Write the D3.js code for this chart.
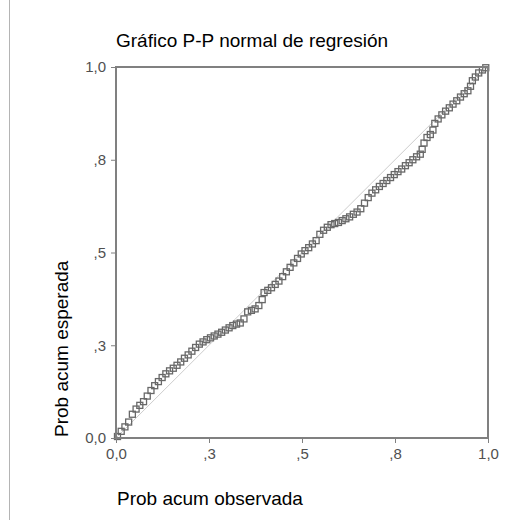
<!DOCTYPE html>
<html>
<head>
<meta charset="utf-8">
<script src="https://cdn.jsdelivr.net/npm/d3@7"></script>
<style>
  body { margin: 0; background: #fff; }
  text { font-family: Arial, "Liberation Sans", sans-serif; }
</style>
</head>
<body>
<div id="container"></div>
<script>
/* CONSTANTS AND GLOBALS */
const width = 516,
  height = 520,
  margin = { left: 116, top: 67, right: 28, bottom: 82 };

/* DATA */
const title = "Gráfico P-P normal de regresión";
const xTitle = "Prob acum observada";
const yTitle = "Prob acum esperada";
const tickValues = [0, 0.25, 0.5, 0.75, 1];
const tickLabels = ["0,0", ",3", ",5", ",8", "1,0"];

// observed cumulative probability (x) and expected cumulative probability (y)
const probObservada = [
  0.004, 0.014, 0.024, 0.034, 0.044, 0.054, 0.064, 0.074, 0.084, 0.094,
  0.104, 0.114, 0.124, 0.134, 0.144, 0.154, 0.164, 0.174, 0.184, 0.194,
  0.204, 0.214, 0.224, 0.234, 0.244, 0.254, 0.264, 0.274, 0.284, 0.294,
  0.304, 0.314, 0.324, 0.334, 0.344, 0.354, 0.364, 0.374, 0.384, 0.393,
  0.398, 0.408, 0.418, 0.428, 0.438, 0.448, 0.458, 0.468, 0.478, 0.488,
  0.498, 0.508, 0.518, 0.528, 0.538, 0.548, 0.558, 0.568, 0.578, 0.588,
  0.598, 0.608, 0.618, 0.628, 0.638, 0.648, 0.658, 0.668, 0.678, 0.688,
  0.698, 0.708, 0.718, 0.728, 0.738, 0.748, 0.758, 0.768, 0.778, 0.788,
  0.798, 0.808, 0.818, 0.823, 0.828, 0.836, 0.845, 0.852, 0.857, 0.866,
  0.876, 0.886, 0.896, 0.906, 0.916, 0.926, 0.936, 0.946, 0.953, 0.958,
  0.966, 0.975, 0.985, 0.994
];
const probEsperada = [
  0.004, 0.018, 0.030, 0.043, 0.064, 0.078, 0.088, 0.098, 0.113, 0.128,
  0.141, 0.152, 0.163, 0.173, 0.181, 0.188, 0.196, 0.205, 0.215, 0.224,
  0.234, 0.244, 0.253, 0.259, 0.265, 0.270, 0.275, 0.280, 0.285, 0.291,
  0.297, 0.303, 0.307, 0.310, 0.321, 0.340, 0.344, 0.348, 0.357, 0.373,
  0.392, 0.398, 0.405, 0.414, 0.423, 0.435, 0.448, 0.460, 0.472, 0.484,
  0.496, 0.505, 0.513, 0.523, 0.532, 0.549, 0.560, 0.568, 0.575, 0.578,
  0.581, 0.586, 0.591, 0.596, 0.603, 0.609, 0.618, 0.633, 0.648, 0.660,
  0.669, 0.678, 0.686, 0.694, 0.702, 0.710, 0.718, 0.725, 0.734, 0.742,
  0.750, 0.758, 0.765, 0.778, 0.795, 0.810, 0.818, 0.830, 0.848, 0.860,
  0.871, 0.881, 0.890, 0.900, 0.909, 0.919, 0.928, 0.936, 0.948, 0.963,
  0.973, 0.984, 0.992, 0.998
];

const data = probObservada.map((x, i) => ({ x: x, y: probEsperada[i] }));

// CREATE SVG ELEMENT
const svg = d3.select("#container")
  .append("svg")
  .attr("width", width)
  .attr("height", height);

// frame edge on the left
svg.append("line")
  .attr("x1", 9.5).attr("x2", 9.5)
  .attr("y1", 0).attr("y2", height)
  .attr("stroke", "#b4b4b4")
  .attr("stroke-width", 1);

// SCALES
const xScale = d3.scaleLinear()
  .domain([0, 1])
  .range([margin.left, width - margin.right]);

const yScale = d3.scaleLinear()
  .domain([0, 1])
  .range([height - margin.bottom, margin.top]);

// reference diagonal
svg.append("line")
  .attr("x1", xScale(0)).attr("y1", yScale(0))
  .attr("x2", xScale(1)).attr("y2", yScale(1))
  .attr("stroke", "#cccccc")
  .attr("stroke-width", 1);

// POINTS
const s = 6;
svg.selectAll(".pt")
  .data(data)
  .enter()
  .append("rect")
  .attr("class", "pt")
  .attr("x", d => xScale(d.x) - s / 2)
  .attr("y", d => yScale(d.y) - s / 2)
  .attr("width", s)
  .attr("height", s)
  .attr("fill", "none")
  .attr("stroke", "#686868")
  .attr("stroke-width", 1.3);

// BUILD AND CALL AXES
const xAxis = d3.axisBottom(xScale)
  .tickValues(tickValues)
  .tickFormat((d, i) => tickLabels[i])
  .tickSize(5)
  .tickPadding(5);

const yAxis = d3.axisLeft(yScale)
  .tickValues(tickValues)
  .tickFormat((d, i) => tickLabels[i])
  .tickSize(5)
  .tickPadding(5);

const gx = svg.append("g")
  .attr("transform", `translate(0, ${yScale(0)})`)
  .call(xAxis);

const gy = svg.append("g")
  .attr("transform", `translate(${xScale(0)}, 0)`)
  .call(yAxis);

[gx, gy].forEach(g => {
  g.select(".domain").remove();
  g.selectAll(".tick line").attr("stroke", "#808080").attr("stroke-width", 1);
  g.selectAll(".tick text")
    .attr("fill", "#505050")
    .style("font-size", "15px")
    .style("font-family", "Arial, 'Liberation Sans', sans-serif");
});

// plot box
svg.append("rect")
  .attr("x", xScale(0))
  .attr("y", yScale(1))
  .attr("width", xScale(1) - xScale(0))
  .attr("height", yScale(0) - yScale(1))
  .attr("fill", "none")
  .attr("stroke", "#808080")
  .attr("stroke-width", 2);

// TITLES
svg.append("text")
  .attr("x", 116)
  .attr("y", 47)
  .attr("fill", "#000")
  .style("font-size", "19px")
  .text(title);

svg.append("text")
  .attr("x", 117)
  .attr("y", 505)
  .attr("fill", "#000")
  .style("font-size", "19px")
  .text(xTitle);

svg.append("text")
  .attr("transform", "translate(68, 437) rotate(-90)")
  .attr("fill", "#000")
  .style("font-size", "19px")
  .text(yTitle);
</script>
</body>
</html>
